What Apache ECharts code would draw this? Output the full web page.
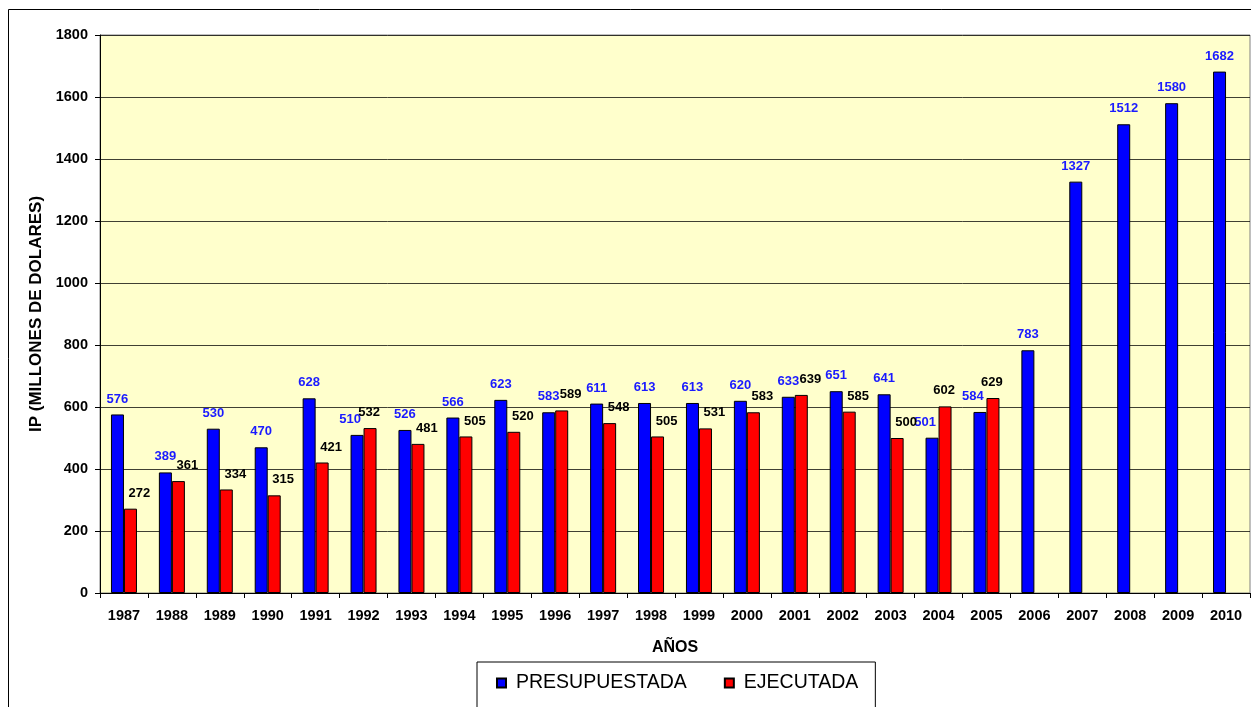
<!DOCTYPE html>
<html>
<head>
<meta charset="utf-8">
<script src="https://cdn.jsdelivr.net/npm/echarts@6/dist/echarts.min.js"></script>
<style>
  html, body { margin: 0; padding: 0; background: #ffffff; }
  #chart { width: 1251px; height: 707px; }
</style>
</head>
<body>
<div id="chart"></div>
<script>
// Inversión pública: presupuestada vs ejecutada (millones de dólares)
const years = ['1987','1988','1989','1990','1991','1992','1993','1994','1995','1996','1997','1998',
               '1999','2000','2001','2002','2003','2004','2005','2006','2007','2008','2009','2010'];
const presupuestada = [576, 389, 530, 470, 628, 510, 526, 566, 623, 583, 611, 613,
                       613, 620, 633, 651, 641, 501, 584, 783, 1327, 1512, 1580, 1682];
const ejecutada = [272, 361, 334, 315, 421, 532, 481, 505, 520, 589, 548, 505,
                   531, 583, 639, 585, 500, 602, 629, null, null, null, null, null];
const yTicks = [0, 200, 400, 600, 800, 1000, 1200, 1400, 1600, 1800];

const FONT = 'Liberation Sans, Arial, sans-serif';

// when the executed bar is clearly taller, the budget label steps left and
// the executed label stays centred; otherwise the executed label sits to the right
const redTaller = presupuestada.map((v, i) => ejecutada[i] != null && ejecutada[i] - v > 15);

const presData = presupuestada.map((v, i) => ({
  value: v,
  label: { offset: [redTaller[i] ? -7 : 0, 0] }
}));
const ejecData = ejecutada.map((v, i) => (v == null ? null : {
  value: v,
  label: { offset: [redTaller[i] ? -1 : 9, 0] }
}));

const chart = echarts.init(document.getElementById('chart'), null, { renderer: 'canvas' });

chart.setOption({
  backgroundColor: '#ffffff',
  animation: false,
  graphic: [
    {
      type: 'rect',
      shape: { x: 8.5, y: 9.5, width: 1260, height: 720 },
      style: { fill: 'none', stroke: '#000000', lineWidth: 1 },
      z: -1
    }
  ],
  grid: { left: 100, right: 1, top: 35, bottom: 114, containLabel: false,
          show: true, backgroundColor: '#FFFFCC', borderColor: '#808080', borderWidth: 1 },
  legend: {
    data: ['PRESUPUESTADA', 'EJECUTADA'],
    left: 477,
    top: 662,
    padding: [11, 17, 40, 19],
    itemGap: 37,
    itemWidth: 9,
    itemHeight: 9,
    icon: 'rect',
    borderColor: '#000000',
    borderWidth: 1,
    backgroundColor: '#ffffff',
    textStyle: { fontFamily: FONT, fontSize: 19.5, color: '#000000', padding: [0, 0, 0, 5] }
  },
  xAxis: {
    type: 'category',
    data: years,
    name: 'AÑOS',
    nameLocation: 'middle',
    nameGap: 47,
    nameTextStyle: { fontFamily: FONT, fontWeight: 'bold', fontSize: 16, color: '#000' },
    axisLine: { lineStyle: { color: '#000', width: 1 } },
    axisTick: { show: true, length: 5, inside: false, alignWithLabel: false, lineStyle: { color: '#000' } },
    axisLabel: { fontFamily: FONT, fontWeight: 'bold', fontSize: 14.5, color: '#000', margin: 15, interval: 0 }
  },
  yAxis: {
    type: 'value',
    min: yTicks[0],
    max: yTicks[yTicks.length - 1],
    interval: yTicks[1] - yTicks[0],
    name: 'IP (MILLONES DE DOLARES)',
    nameLocation: 'middle',
    nameRotate: 90,
    nameGap: 55,
    nameTextStyle: { fontFamily: FONT, fontWeight: 'bold', fontSize: 17, color: '#000' },
    axisLine: { show: true, lineStyle: { color: '#000', width: 1 } },
    axisTick: { show: true, length: 5, lineStyle: { color: '#000' } },
    axisLabel: { fontFamily: FONT, fontWeight: 'bold', fontSize: 14.5, color: '#000', margin: 12,
                 formatter: (v) => String(v) },
    splitLine: { show: true, lineStyle: { color: '#000', width: 1, opacity: 0.75 } }
  },
  series: [
    {
      name: 'PRESUPUESTADA',
      type: 'bar',
      data: presData,
      barWidth: 13,
      barGap: '0%',
      itemStyle: { color: '#0000FF', borderColor: '#000', borderWidth: 1 },
      label: {
        show: true,
        position: 'top',
        distance: 9,
        fontFamily: FONT,
        fontWeight: 'bold',
        fontSize: 13,
        color: '#1a1aff'
      }
    },
    {
      name: 'EJECUTADA',
      type: 'bar',
      data: ejecData,
      barWidth: 13,
      barGap: '0%',
      itemStyle: { color: '#FF0000', borderColor: '#000', borderWidth: 1 },
      label: {
        show: true,
        position: 'top',
        distance: 9,
        fontFamily: FONT,
        fontWeight: 'bold',
        fontSize: 13,
        color: '#000000'
      }
    }
  ]
});
</script>
</body>
</html>
